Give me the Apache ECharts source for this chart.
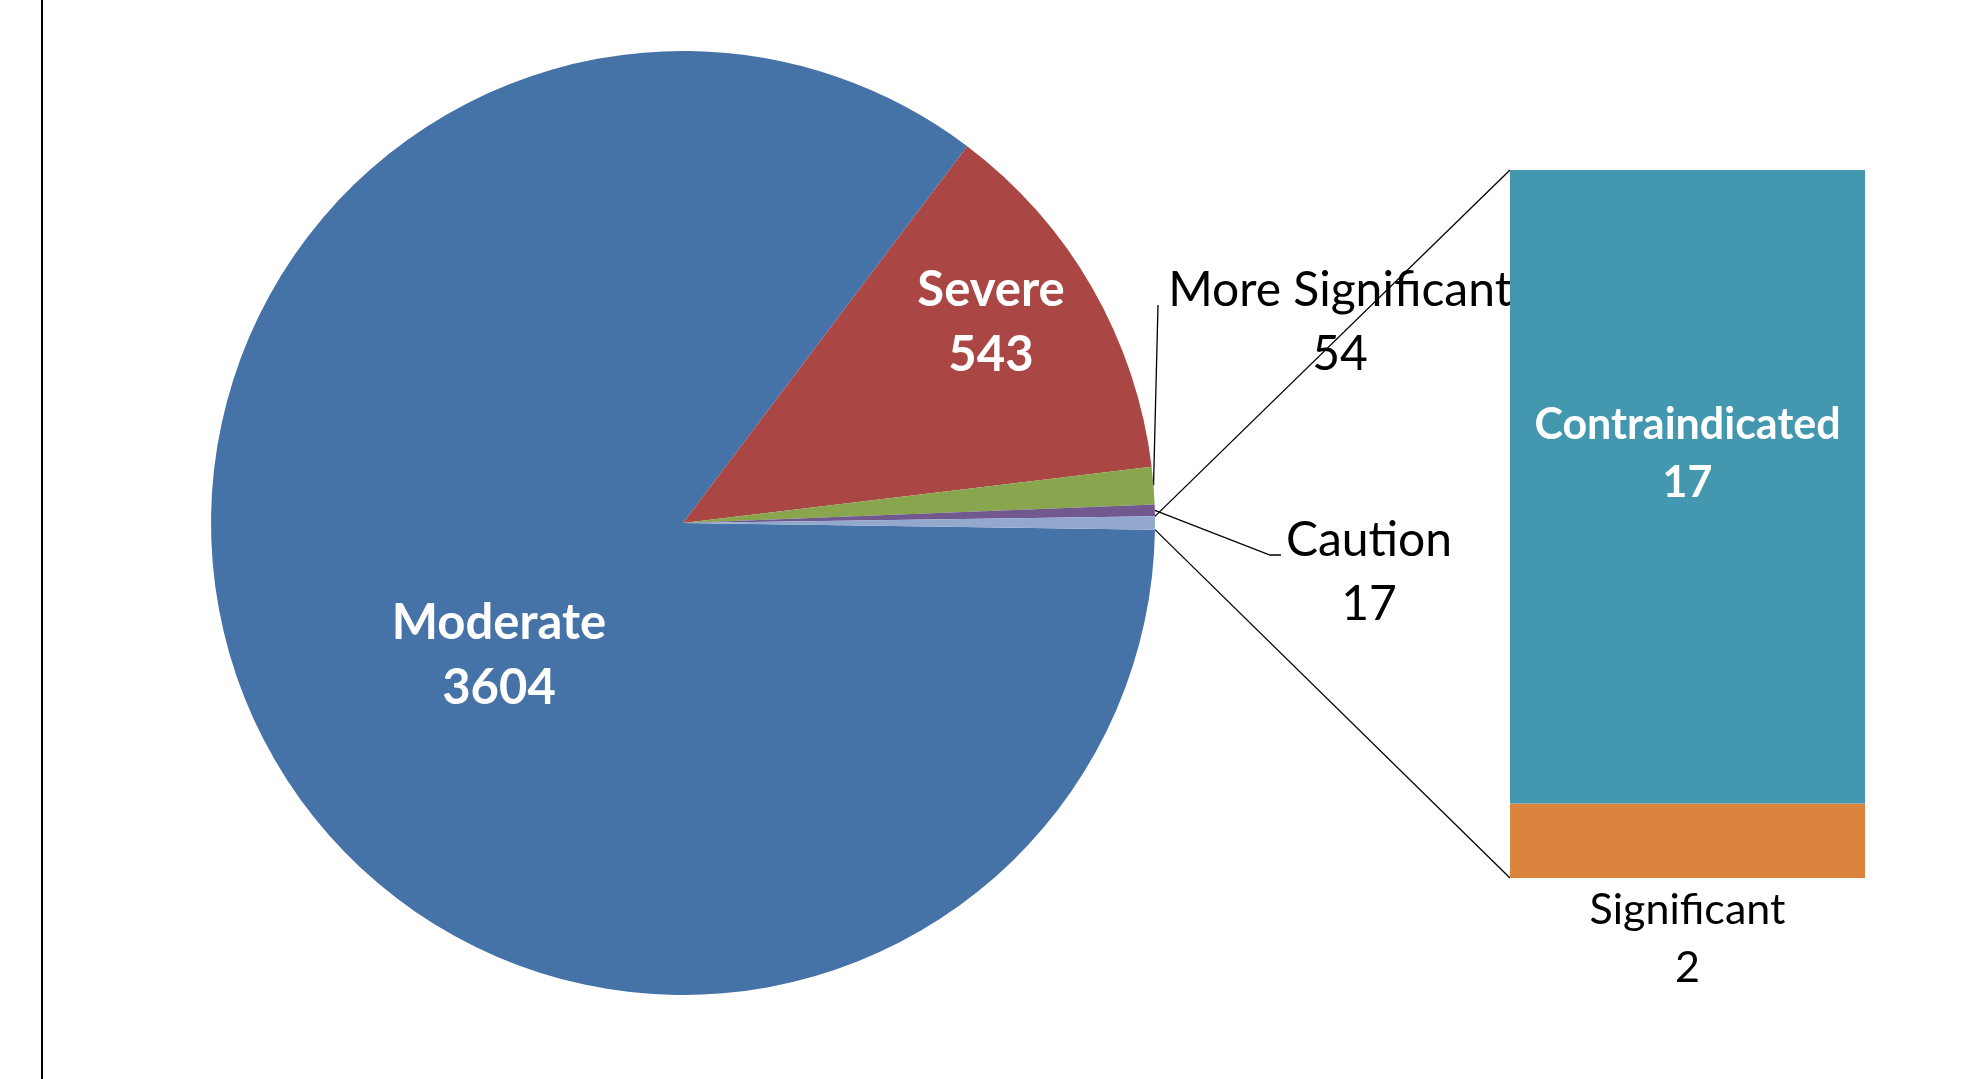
<!DOCTYPE html>
<html>
<head>
<meta charset="utf-8">
<title>Interaction severity</title>
<script src="https://cdn.jsdelivr.net/npm/echarts@6/dist/echarts.min.js"></script>
<style>
  html, body { margin: 0; padding: 0; background: #ffffff; }
  #chart { width: 1962px; height: 1079px; }
</style>
</head>
<body>
<div id="chart"></div>
<script>
// Main pie categories and counts
const pieCategories = ['Moderate', 'Severe', 'More Significant', 'Caution'];
const pieValues = [3604, 543, 54, 17];
// Categories split out into the secondary stacked bar
const barCategories = ['Contraindicated', 'Significant'];
const barValues = [17, 2];
const otherName = 'Other';

const pieColors = ['#4572A7', '#AA4643', '#89A54E', '#71588F', '#92A8CD'];
const barColors = ['#4398AF', '#DB843D'];

const FONT = 'Lato, "Open Sans", "Noto Sans", sans-serif';
const PIE_CX = 683, PIE_CY = 523, PIE_R = 472;
const BAR = { left: 1510, top: 170, width: 355, height: 708 };

const otherTotal = barValues.reduce((a, b) => a + b, 0);
const pieData = pieCategories.map((n, i) => ({
  name: n,
  value: pieValues[i],
  label: { show: i < 2 }
})).concat([{ name: otherName, value: otherTotal, label: { show: false } }]);
const total = pieData.reduce((a, d) => a + d.value, 0);
// centre the "Other" slice on the 3 o'clock direction
const startAngle = -(otherTotal / total * 360) / 2;

// edge angles (degrees, counter-clockwise from 3 o'clock) of slice i
function sliceEdges(i) {
  let a = startAngle;
  for (let k = 0; k < i; k++) a -= pieData[k].value / total * 360;
  return [a, a - pieData[i].value / total * 360];
}
function edgePoint(deg) {
  const r = deg * Math.PI / 180;
  return [PIE_CX + PIE_R * Math.cos(r), PIE_CY - PIE_R * Math.sin(r)];
}
function midPoint(i) {
  const e = sliceEdges(i);
  return edgePoint((e[0] + e[1]) / 2);
}

// label centres for the two large slices
const insideLabelPos = [[499, 656], [991, 323]];

// outside labels with their leader-line bends
const outsideLabels = [
  { index: 2, x: 1340, y: 323, bends: [[1158, 305]] },
  { index: 3, x: 1369, y: 573, bends: [[1270, 555], [1281, 555]] }
];

const graphics = [];
// left border rule
graphics.push({
  type: 'line', silent: true,
  shape: { x1: 42, y1: 0, x2: 42, y2: 1079 },
  style: { stroke: '#000', lineWidth: 2 }
});
outsideLabels.forEach(l => {
  graphics.push({
    type: 'polyline', silent: true,
    shape: { points: [midPoint(l.index)].concat(l.bends) },
    style: { stroke: '#000', lineWidth: 1.3, fill: null }
  });
  graphics.push({
    type: 'text', silent: true, x: l.x, y: l.y,
    style: {
      text: pieCategories[l.index] + '\n' + pieValues[l.index],
      fill: '#000', fontSize: 48, fontFamily: FONT,
      lineHeight: 64, align: 'center', verticalAlign: 'middle'
    }
  });
});
// connectors from the "Other" slice to the stacked bar
const otherEdges = sliceEdges(pieData.length - 1);
const pTop = edgePoint(otherEdges[0]);
const pBot = edgePoint(otherEdges[1]);
graphics.push({
  type: 'line', silent: true,
  shape: { x1: pTop[0], y1: pTop[1], x2: BAR.left, y2: BAR.top },
  style: { stroke: '#000', lineWidth: 1.3 }
});
graphics.push({
  type: 'line', silent: true,
  shape: { x1: pBot[0], y1: pBot[1], x2: BAR.left, y2: BAR.top + BAR.height },
  style: { stroke: '#000', lineWidth: 1.3 }
});

// stacked bar: last category at the bottom
const barSeries = [];
for (let i = barCategories.length - 1; i >= 0; i--) {
  const top = i === 0;
  barSeries.push({
    type: 'bar',
    name: barCategories[i],
    stack: 'other',
    barWidth: '100%',
    data: [barValues[i]],
    itemStyle: { color: barColors[i] },
    label: top ? {
      show: true, position: 'inside', offset: [0, -33],
      formatter: '{a}\n{c}', color: '#fff', fontWeight: 'bold',
      fontSize: 43, lineHeight: 58, fontFamily: FONT
    } : {
      show: true, position: 'bottom', distance: 3,
      formatter: '{a}\n{c}', color: '#000',
      fontSize: 43, lineHeight: 58, fontFamily: FONT
    }
  });
}

const chart = echarts.init(document.getElementById('chart'), null, { renderer: 'canvas' });
chart.setOption({
  animation: false,
  backgroundColor: '#ffffff',
  grid: { left: BAR.left, top: BAR.top, width: BAR.width, height: BAR.height },
  xAxis: { type: 'category', data: [otherName], show: false },
  yAxis: { type: 'value', min: 0, max: otherTotal, show: false },
  series: [{
    type: 'pie',
    center: [PIE_CX, PIE_CY],
    radius: PIE_R,
    startAngle: startAngle,
    clockwise: true,
    avoidLabelOverlap: false,
    color: pieColors,
    itemStyle: { borderWidth: 0 },
    emphasis: { disabled: true },
    label: {
      position: 'inside', formatter: '{b}\n{c}', color: '#fff',
      fontWeight: 'bold', fontSize: 49, lineHeight: 65, fontFamily: FONT
    },
    labelLine: { show: false },
    labelLayout: function (params) {
      const p = insideLabelPos[params.dataIndex];
      return p ? { x: p[0], y: p[1], align: 'center', verticalAlign: 'middle' } : {};
    },
    data: pieData
  }].concat(barSeries),
  graphic: graphics
});
</script>
</body>
</html>
